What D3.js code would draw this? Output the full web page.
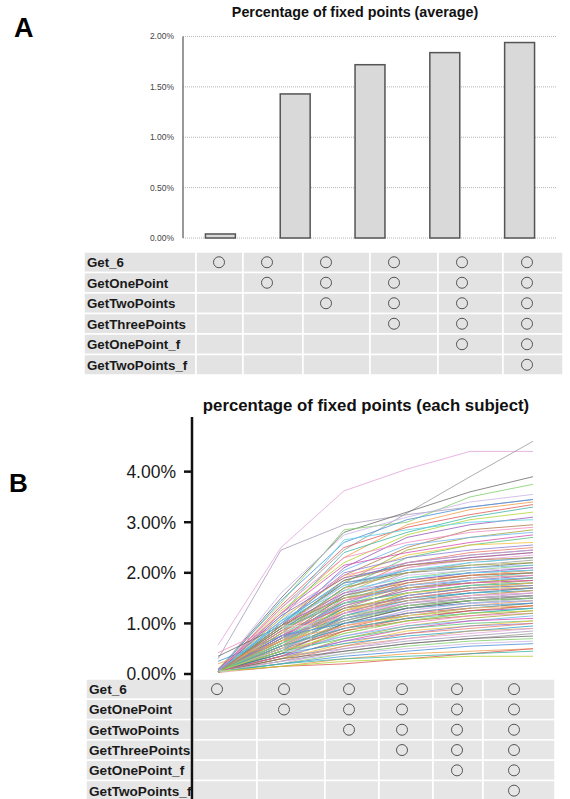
<!DOCTYPE html>
<html>
<head>
<meta charset="utf-8">
<script src="https://cdn.jsdelivr.net/npm/d3@7"></script>
<style>
  body { margin: 0; background: #fff; }
  svg { display: block; }
</style>
</head>
<body>
<div id="chart"></div>
<script>
// methods (table rows) and configurations (table columns, number of methods used)
const methods = ["Get_6", "GetOnePoint", "GetTwoPoints", "GetThreePoints", "GetOnePoint_f", "GetTwoPoints_f"];
const configs = [1, 2, 3, 4, 5, 6];

// panel A: average percentage of fixed points (%)
const barCats = ["b1", "b2", "b3", "b4", "b5"];
const barValues = [0.04, 1.43, 1.72, 1.84, 1.94];
const ticksA = [0, 0.5, 1, 1.5, 2];

// panel B: percentage of fixed points per subject (%), one value per configuration
const ticksB = [0, 1, 2, 3, 4];
const subjects = [
  [0.57,2.50,3.62,4.05,4.40,4.40],
  [0.30,2.45,2.95,3.15,3.30,3.45],
  [0.05,1.30,2.45,3.18,3.90,4.60],
  [0.08,1.50,2.80,3.20,3.60,3.90],
  [0.10,1.40,2.85,3.00,3.50,3.75],
  [0.05,1.60,2.75,3.10,3.40,3.55],
  [0.06,1.45,2.60,3.05,3.30,3.45],
  [0.04,1.20,2.30,2.95,3.25,3.40],
  [0.05,1.35,2.50,2.90,3.15,3.35],
  [0.07,1.10,2.40,2.80,3.10,3.30],
  [0.03,1.25,2.20,2.75,3.05,3.20],
  [0.05,0.95,2.10,2.70,2.95,3.10],
  [0.08,1.15,2.65,2.85,3.00,3.05],
  [0.04,1.00,1.95,2.50,2.85,2.95],
  [0.06,1.30,2.30,2.60,2.80,2.90],
  [0.05,0.90,1.80,2.45,2.70,2.85],
  [0.03,1.05,2.05,2.55,2.70,2.80],
  [0.09,1.20,2.15,2.40,2.60,2.75],
  [0.05,0.85,1.70,2.30,2.55,2.70],
  [0.04,1.10,1.90,2.35,2.55,2.60],
  [0.06,0.95,2.00,2.30,2.45,2.55],
  [0.05,0.80,1.65,2.20,2.40,2.50],
  [0.07,1.00,1.85,2.20,2.35,2.45],
  [0.03,0.75,1.60,2.10,2.30,2.40],
  [0.05,0.90,1.75,2.10,2.25,2.35],
  [0.04,0.70,1.55,2.00,2.20,2.30],
  [0.06,0.85,1.70,2.05,2.15,2.25],
  [0.35,0.95,1.80,2.00,2.10,2.20],
  [0.05,0.65,1.50,1.90,2.05,2.15],
  [0.04,0.80,1.60,1.95,2.05,2.10],
  [0.08,0.90,1.55,1.85,2.00,2.05],
  [0.05,0.60,1.45,1.85,1.95,2.05],
  [0.03,0.75,1.40,1.80,1.95,2.00],
  [0.06,0.85,1.50,1.75,1.90,2.00],
  [0.04,0.55,1.35,1.75,1.90,1.95],
  [0.05,0.70,1.45,1.70,1.85,1.95],
  [0.07,0.80,1.35,1.65,1.85,1.90],
  [0.05,0.65,1.30,1.70,1.80,1.90],
  [0.42,1.00,1.50,1.70,1.80,1.85],
  [0.04,0.60,1.25,1.60,1.75,1.85],
  [0.05,0.75,1.40,1.60,1.75,1.80],
  [0.06,0.55,1.20,1.55,1.70,1.80],
  [0.03,0.70,1.30,1.55,1.70,1.75],
  [0.05,0.80,1.25,1.50,1.65,1.75],
  [0.04,0.50,1.15,1.50,1.65,1.70],
  [0.06,0.65,1.20,1.45,1.60,1.70],
  [0.05,0.60,1.30,1.50,1.60,1.65],
  [0.03,0.55,1.10,1.40,1.55,1.65],
  [0.07,0.70,1.15,1.40,1.55,1.60],
  [0.05,0.45,1.05,1.35,1.50,1.60],
  [0.04,0.65,1.10,1.35,1.50,1.55],
  [0.06,0.50,1.00,1.30,1.45,1.55],
  [0.05,0.60,1.05,1.30,1.40,1.50],
  [0.04,0.40,0.95,1.25,1.40,1.50],
  [0.25,0.75,1.10,1.30,1.40,1.45],
  [0.05,0.55,0.95,1.20,1.35,1.45],
  [0.03,0.45,0.90,1.20,1.30,1.40],
  [0.06,0.50,1.00,1.15,1.30,1.40],
  [0.05,0.40,0.85,1.15,1.25,1.35],
  [0.04,0.55,0.90,1.10,1.25,1.30],
  [0.05,0.35,0.80,1.05,1.20,1.30],
  [0.07,0.50,0.85,1.05,1.15,1.25],
  [0.05,0.45,0.75,1.00,1.15,1.20],
  [0.04,0.30,0.70,0.95,1.10,1.20],
  [0.06,0.40,0.75,0.95,1.05,1.15],
  [0.05,0.35,0.65,0.90,1.05,1.10],
  [0.03,0.45,0.70,0.90,1.00,1.05],
  [0.05,0.30,0.60,0.85,0.95,1.05],
  [0.04,0.35,0.65,0.80,0.95,1.00],
  [0.06,0.25,0.55,0.80,0.90,1.00],
  [0.05,0.40,0.60,0.75,0.85,0.95],
  [0.04,0.30,0.55,0.70,0.85,0.90],
  [0.05,0.20,0.50,0.70,0.80,0.90],
  [0.03,0.35,0.50,0.65,0.75,0.85],
  [0.05,0.25,0.45,0.60,0.70,0.80],
  [0.04,0.30,0.45,0.60,0.70,0.75],
  [0.06,0.20,0.40,0.55,0.65,0.70],
  [0.05,0.25,0.40,0.50,0.60,0.65],
  [0.04,0.20,0.35,0.45,0.55,0.60],
  [0.05,0.15,0.30,0.40,0.45,0.50],
  [0.03,0.15,0.20,0.30,0.40,0.50],
  [0.04,0.20,0.30,0.35,0.40,0.45],
  [0.05,0.15,0.25,0.30,0.35,0.35],
  [0.05,0.95,1.60,1.85,2.00,2.10],
  [0.04,1.05,1.65,1.90,2.00,2.05],
  [0.06,0.70,1.55,1.80,1.95,2.00],
  [0.05,0.85,1.45,1.75,1.90,1.95],
  [0.03,0.95,1.50,1.70,1.80,1.90],
  [0.05,0.60,1.40,1.75,1.85,1.90],
  [0.04,0.75,1.35,1.65,1.80,1.85],
  [0.06,0.90,1.40,1.60,1.75,1.80],
  [0.05,0.50,1.25,1.60,1.70,1.80],
  [0.04,0.70,1.20,1.55,1.70,1.75],
  [0.05,0.85,1.30,1.50,1.65,1.70],
  [0.07,0.45,1.15,1.45,1.60,1.70],
  [0.05,0.65,1.25,1.45,1.55,1.65],
  [0.03,0.80,1.20,1.40,1.55,1.60],
  [0.05,0.55,1.10,1.40,1.50,1.55],
  [0.04,0.70,1.05,1.35,1.45,1.55],
  [0.06,0.40,1.00,1.30,1.45,1.50],
  [0.05,0.60,1.15,1.35,1.45,1.50],
  [0.04,0.50,0.95,1.25,1.40,1.45],
  [0.05,0.75,1.00,1.20,1.35,1.40],
  [0.20,0.65,0.95,1.15,1.30,1.35],
  [0.05,0.35,0.85,1.10,1.25,1.35],
  [0.04,0.55,0.90,1.10,1.20,1.30],
  [0.06,0.45,0.80,1.05,1.20,1.25],
  [0.05,1.15,1.90,2.15,2.30,2.40],
  [0.04,1.00,1.75,2.05,2.20,2.30],
  [0.05,0.90,1.85,2.15,2.25,2.30],
  [0.06,1.20,1.95,2.20,2.35,2.45],
  [0.03,0.80,1.70,2.00,2.15,2.20],
  [0.05,1.05,1.80,2.05,2.10,2.15]
];

const lineColors = ["#e3a3dc", "#a89bb8", "#9a9a9a", "#6d6d6d", "#7fcf6a", "#c8b4e6",
  "#4a90d9", "#f39c4a", "#e05a5a", "#3fb8a8", "#b5d334", "#9b59b6", "#5bd3e6",
  "#b07a4a", "#f28cc0", "#a3a83a", "#6cb4f0", "#d64fb0", "#59c27a", "#f0c23a",
  "#8a7fd6", "#e87a6a", "#2aa6c8", "#c9a06a"];

const W = 570, H = 799;
const font = "'Liberation Sans', Arial, sans-serif";
const pct = d3.format(".2%");

const svg = d3.select("#chart").append("svg")
  .attr("width", W)
  .attr("height", H)
  .style("font-family", font);

svg.append("rect").attr("width", W).attr("height", H).attr("fill", "#fff");

// ---------- Panel A ----------
svg.append("text").attr("x", 14).attr("y", 37)
  .attr("font-size", 27).attr("font-weight", "bold").text("A");

svg.append("text").attr("x", 355).attr("y", 17)
  .attr("text-anchor", "middle").attr("font-size", 14.3).attr("font-weight", "bold")
  .attr("fill", "#111").text("Percentage of fixed points (average)");

const yA = d3.scaleLinear().domain([0, 2]).range([238, 36.5]);
const xA = d3.scaleBand().domain(barCats).range([183, 557])
  .paddingInner(0.6).paddingOuter(0.3);

const gA = svg.append("g");
gA.selectAll(".gridA").data(ticksA).join("line")
  .attr("x1", 183).attr("x2", 557)
  .attr("y1", d => yA(d)).attr("y2", d => yA(d))
  .attr("stroke", "#b5b5b5").attr("stroke-dasharray", "1,1");

gA.selectAll(".tickA").data(ticksA).join("text")
  .attr("x", 174).attr("y", d => yA(d)).attr("dy", "0.35em")
  .attr("text-anchor", "end").attr("font-size", 8.5).attr("fill", "#444")
  .text(d => pct(d / 100));

gA.append("line").attr("x1", 183).attr("x2", 183)
  .attr("y1", yA(2)).attr("y2", yA(0))
  .attr("stroke", "#777").attr("stroke-width", 1.5);

gA.selectAll(".bar").data(barValues).join("rect")
  .attr("x", (d, i) => xA(barCats[i]))
  .attr("width", xA.bandwidth())
  .attr("y", d => yA(d))
  .attr("height", d => yA(0) - yA(d))
  .attr("fill", "#d9d9d9").attr("stroke", "#555").attr("stroke-width", 1.5);

// membership table
function drawTable(opts) {
  const g = svg.append("g");
  const rowY = d3.scaleBand().domain(methods).range([opts.top, opts.top + opts.rowH * methods.length]);
  const edges = opts.edges;
  const colX = d3.scaleOrdinal().domain(configs).range(opts.circles);
  methods.forEach((m, r) => {
    // label cell
    g.append("rect").attr("x", opts.labelX).attr("y", rowY(m))
      .attr("width", edges[0] - opts.labelX).attr("height", rowY.bandwidth())
      .attr("fill", opts.bg).attr("stroke", "#fff").attr("stroke-width", 1.5);
    configs.forEach((c, j) => {
      g.append("rect").attr("x", edges[j]).attr("y", rowY(m))
        .attr("width", edges[j + 1] - edges[j]).attr("height", rowY.bandwidth())
        .attr("fill", opts.bg).attr("stroke", "#fff").attr("stroke-width", 1.5);
      if (r < c) {
        g.append("circle").attr("cx", colX(c)).attr("cy", rowY(m) + rowY.bandwidth() / 2)
          .attr("r", 5.5).attr("fill", "none").attr("stroke", "#555").attr("stroke-width", 1);
      }
    });
    g.append("text").attr("x", opts.labelX + 3).attr("y", rowY(m) + rowY.bandwidth() / 2)
      .attr("dy", "0.36em").attr("font-size", opts.fs).attr("font-weight", "bold")
      .attr("fill", "#1a1a1a").text(m);
  });
  return g;
}

drawTable({
  top: 252, rowH: 20.5, labelX: 84, bg: "#e3e3e3", fs: 13.3,
  edges: [196, 243, 303, 370, 438, 503, 563],
  circles: [219, 267, 326, 394, 462, 527]
});

// ---------- Panel B ----------
svg.append("text").attr("x", 9).attr("y", 492)
  .attr("font-size", 26).attr("font-weight", "bold").text("B");

svg.append("text").attr("x", 366).attr("y", 411)
  .attr("text-anchor", "middle").attr("font-size", 16.8).attr("font-weight", "bold")
  .attr("fill", "#111").text("percentage of fixed points (each subject)");

const yB = d3.scaleLinear().domain([0, 5.08]).range([674, 417]);
const xB = d3.scalePoint().domain(configs).range([218, 533]);

const line = d3.line().x((d, i) => xB(configs[i])).y(d => yB(d));

const gB = svg.append("g");
gB.selectAll(".subj").data(subjects).join("path")
  .attr("d", line)
  .attr("fill", "none")
  .attr("stroke", (d, i) => lineColors[i % lineColors.length])
  .attr("stroke-width", 1)
  .attr("stroke-opacity", 0.8);

// faint white boxes summarising each configuration
configs.forEach((c, j) => {
  const vals = subjects.map(s => s[j]).sort(d3.ascending);
  const q1 = d3.quantile(vals, 0.25), q3 = d3.quantile(vals, 0.75);
  gB.append("rect")
    .attr("x", xB(c) + 2).attr("width", 28)
    .attr("y", yB(q3)).attr("height", yB(q1) - yB(q3))
    .attr("fill", "#fff").attr("fill-opacity", 0.08)
    .attr("stroke", "#fff").attr("stroke-opacity", 0.35).attr("stroke-width", 1.5);
});

gB.selectAll(".tickB").data(ticksB).join("text")
  .attr("x", 176).attr("y", d => yB(d)).attr("dy", "0.36em")
  .attr("text-anchor", "end").attr("font-size", 17.5).attr("fill", "#1a1a1a")
  .text(d => pct(d / 100));

drawTable({
  top: 679, rowH: 20.3, labelX: 86, bg: "#e6e6e6", fs: 13.6,
  edges: [193, 257, 325, 379, 433, 483, 555],
  circles: [217, 284, 349, 402, 457, 514]
});

gB.raise();
svg.selectAll(".tickmarkB").data(ticksB).join("line")
  .attr("x1", 184).attr("x2", 192)
  .attr("y1", d => yB(d)).attr("y2", d => yB(d))
  .attr("stroke", "#111").attr("stroke-width", 2.5);
svg.append("line").attr("x1", 192).attr("x2", 192)
  .attr("y1", 417).attr("y2", H)
  .attr("stroke", "#111").attr("stroke-width", 2.5);
</script>
</body>
</html>
